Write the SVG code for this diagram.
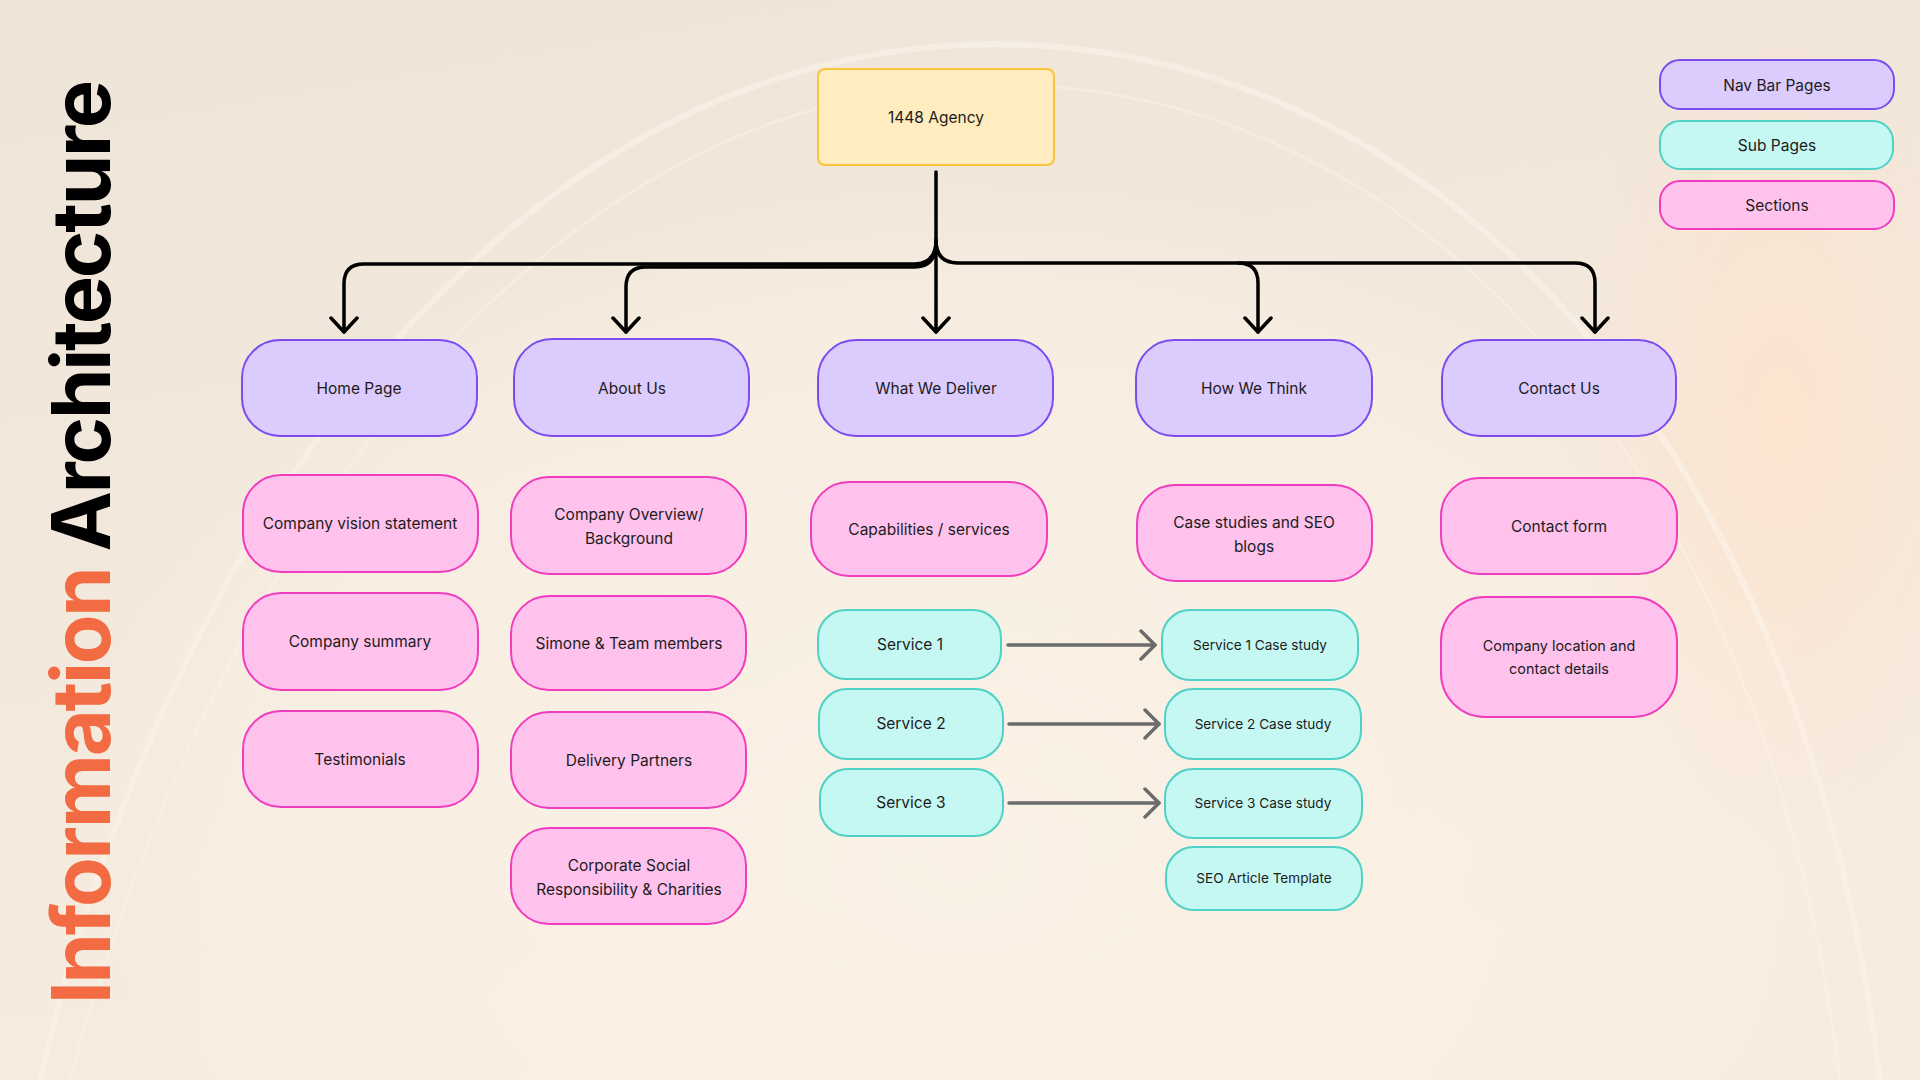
<svg xmlns="http://www.w3.org/2000/svg" width="1920" height="1080" viewBox="0 0 1920 1080">
<style>
.t{font-family:Inter,"Noto Sans","Liberation Sans",sans-serif;font-size:15.5px;fill:#1c1c1c;text-anchor:middle}
.s{font-size:13.6px}
.l{font-size:14.4px}
.nav{fill:#DCCBFD;stroke:#7B4DF0;stroke-width:2}
.sec{fill:#FFC2EC;stroke:#F03CBF;stroke-width:2}
.sub{fill:#C5F8F2;stroke:#4FD1C5;stroke-width:2}
.root{fill:#FFECBF;stroke:#FBC43A;stroke-width:2}
.blk{fill:none;stroke:#000;stroke-width:3.5;stroke-linecap:round;stroke-linejoin:round}
.gry{fill:none;stroke:#6b6b6b;stroke-width:3.5;stroke-linecap:round}
</style>
<defs>
<linearGradient id="bg" x1="0" y1="0" x2="0.3" y2="1">
<stop offset="0" stop-color="#EFE4D8"/>
<stop offset="0.6" stop-color="#F3E9DD"/>
<stop offset="1" stop-color="#F7ECDF"/>
</linearGradient>
<radialGradient id="glow" cx="0.5" cy="0.6" r="0.5">
<stop offset="0" stop-color="#FBF2E7" stop-opacity="0.9"/>
<stop offset="0.8" stop-color="#FAF0E4" stop-opacity="0.6"/>
<stop offset="1" stop-color="#FAF0E4" stop-opacity="0"/>
</radialGradient>
<radialGradient id="orange" cx="0.5" cy="0.5" r="0.5">
<stop offset="0" stop-color="#FFE3CC" stop-opacity="0.8"/>
<stop offset="1" stop-color="#FFE3CC" stop-opacity="0"/>
</radialGradient>
<marker id="ah" viewBox="0 0 18 30" refX="16" refY="15" markerWidth="18" markerHeight="30" markerUnits="userSpaceOnUse" orient="auto">
<path d="M2,2 L16,15 L2,28" fill="none" stroke="#000" stroke-width="3.5" stroke-linecap="round" stroke-linejoin="round"/>
</marker>
<marker id="ag" viewBox="0 0 18 32" refX="16" refY="16" markerWidth="18" markerHeight="32" markerUnits="userSpaceOnUse" orient="auto">
<path d="M2,2 L16,16 L2,30" fill="none" stroke="#6b6b6b" stroke-width="3.5" stroke-linecap="round" stroke-linejoin="round"/>
</marker>
</defs>
<g id="background">
<rect width="1920" height="1080" fill="url(#bg)"/>
<ellipse cx="960" cy="720" rx="900" ry="680" fill="url(#glow)"/>
<ellipse cx="1780" cy="420" rx="220" ry="420" fill="url(#orange)"/>
<path d="M40,1080 C160,560 480,70 960,45 C1420,25 1800,420 1880,1080" fill="none" stroke="#FBF4EA" stroke-width="6" opacity="0.6"/>
<path d="M70,1080 C200,600 500,110 960,85 C1400,65 1760,440 1840,1080" fill="none" stroke="#FBF4EA" stroke-width="3" opacity="0.45"/>
</g>
<g id="title">
<text transform="translate(110,1004) rotate(-90)" font-family="Inter,'Liberation Sans',sans-serif" font-size="81" font-weight="700" textLength="924" lengthAdjust="spacing"><tspan fill="#F26B43">Information</tspan><tspan fill="#000"> Architecture</tspan></text>
</g>
<g id="connectors">
<path class="blk" d="M936,172 V332" marker-end="url(#ah)"/>
<path class="blk" d="M936,240 Q936,264 914,264 H364 Q344,264 344,284 V332" marker-end="url(#ah)"/>
<path class="blk" d="M936,243 Q936,267 914,267 H646 Q626,267 626,287 V332" marker-end="url(#ah)"/>
<path class="blk" d="M936,240 Q936,263 958,263 H1238 Q1258,263 1258,283 V332" marker-end="url(#ah)"/>
<path class="blk" d="M1238,263 H1575 Q1595,263 1595,283 V332" marker-end="url(#ah)"/>
<path class="gry" d="M1008,645 H1155" marker-end="url(#ag)"/>
<path class="gry" d="M1009,724 H1159" marker-end="url(#ag)"/>
<path class="gry" d="M1009,803 H1159" marker-end="url(#ag)"/>
</g>
<g id="root"><rect class="root" x="818" y="69" width="236" height="96" rx="7"/><text class="t" x="936" y="123">1448 Agency</text></g>
<g id="nav-home"><rect class="nav" x="242" y="340" width="235" height="96" rx="38"/><text class="t" x="359" y="394">Home Page</text></g>
<g id="nav-about"><rect class="nav" x="514" y="339" width="235" height="97" rx="38"/><text class="t" x="632" y="394">About Us</text></g>
<g id="nav-deliver"><rect class="nav" x="818" y="340" width="235" height="96" rx="38"/><text class="t" x="936" y="394">What We Deliver</text></g>
<g id="nav-think"><rect class="nav" x="1136" y="340" width="236" height="96" rx="38"/><text class="t" x="1254" y="394">How We Think</text></g>
<g id="nav-contact"><rect class="nav" x="1442" y="340" width="234" height="96" rx="38"/><text class="t" x="1559" y="394">Contact Us</text></g>
<g id="sec-vision"><rect class="sec" x="243" y="475" width="235" height="97" rx="38"/><text class="t" x="360" y="529">Company vision statement</text></g>
<g id="sec-summary"><rect class="sec" x="243" y="593" width="235" height="97" rx="38"/><text class="t" x="360" y="647">Company summary</text></g>
<g id="sec-testimonials"><rect class="sec" x="243" y="711" width="235" height="96" rx="38"/><text class="t" x="360" y="765">Testimonials</text></g>
<g id="sec-overview"><rect class="sec" x="511" y="477" width="235" height="97" rx="38"/><text class="t" x="629" y="520">Company Overview/</text><text class="t" x="629" y="544">Background</text></g>
<g id="sec-team"><rect class="sec" x="511" y="596" width="235" height="94" rx="38"/><text class="t" x="629" y="649">Simone &amp; Team members</text></g>
<g id="sec-partners"><rect class="sec" x="511" y="712" width="235" height="96" rx="38"/><text class="t" x="629" y="766">Delivery Partners</text></g>
<g id="sec-csr"><rect class="sec" x="511" y="828" width="235" height="96" rx="38"/><text class="t" x="629" y="871">Corporate Social</text><text class="t" x="629" y="895">Responsibility &amp; Charities</text></g>
<g id="sec-capabilities"><rect class="sec" x="811" y="482" width="236" height="94" rx="38"/><text class="t" x="929" y="535">Capabilities / services</text></g>
<g id="sec-casestudies"><rect class="sec" x="1137" y="485" width="235" height="96" rx="38"/><text class="t" x="1254" y="528">Case studies and SEO</text><text class="t" x="1254" y="552">blogs</text></g>
<g id="sec-form"><rect class="sec" x="1441" y="478" width="236" height="96" rx="38"/><text class="t" x="1559" y="532">Contact form</text></g>
<g id="sec-location"><rect class="sec" x="1441" y="597" width="236" height="120" rx="44"/><text class="t l" x="1559" y="651">Company location and</text><text class="t l" x="1559" y="674">contact details</text></g>
<g id="sub-s1"><rect class="sub" x="818" y="610" width="183" height="69" rx="28"/><text class="t" x="910" y="650">Service 1</text></g>
<g id="sub-s2"><rect class="sub" x="819" y="689" width="184" height="70" rx="28"/><text class="t" x="911" y="729">Service 2</text></g>
<g id="sub-s3"><rect class="sub" x="820" y="769" width="183" height="67" rx="28"/><text class="t" x="911" y="808">Service 3</text></g>
<g id="sub-cs1"><rect class="sub" x="1162" y="610" width="196" height="70" rx="28"/><text class="t s" x="1260" y="650">Service 1 Case study</text></g>
<g id="sub-cs2"><rect class="sub" x="1165" y="689" width="196" height="70" rx="28"/><text class="t s" x="1263" y="729">Service 2 Case study</text></g>
<g id="sub-cs3"><rect class="sub" x="1165" y="769" width="197" height="69" rx="28"/><text class="t s" x="1263" y="808">Service 3 Case study</text></g>
<g id="sub-seo"><rect class="sub" x="1166" y="847" width="196" height="63" rx="28"/><text class="t s" x="1264" y="883">SEO Article Template</text></g>
<g id="legend-nav"><rect class="nav" x="1660" y="60" width="234" height="49" rx="20"/><text class="t" x="1777" y="91">Nav Bar Pages</text></g>
<g id="legend-sub"><rect class="sub" x="1660" y="121" width="233" height="48" rx="20"/><text class="t" x="1777" y="151">Sub Pages</text></g>
<g id="legend-sec"><rect class="sec" x="1660" y="181" width="234" height="48" rx="20"/><text class="t" x="1777" y="211">Sections</text></g>
</svg>
